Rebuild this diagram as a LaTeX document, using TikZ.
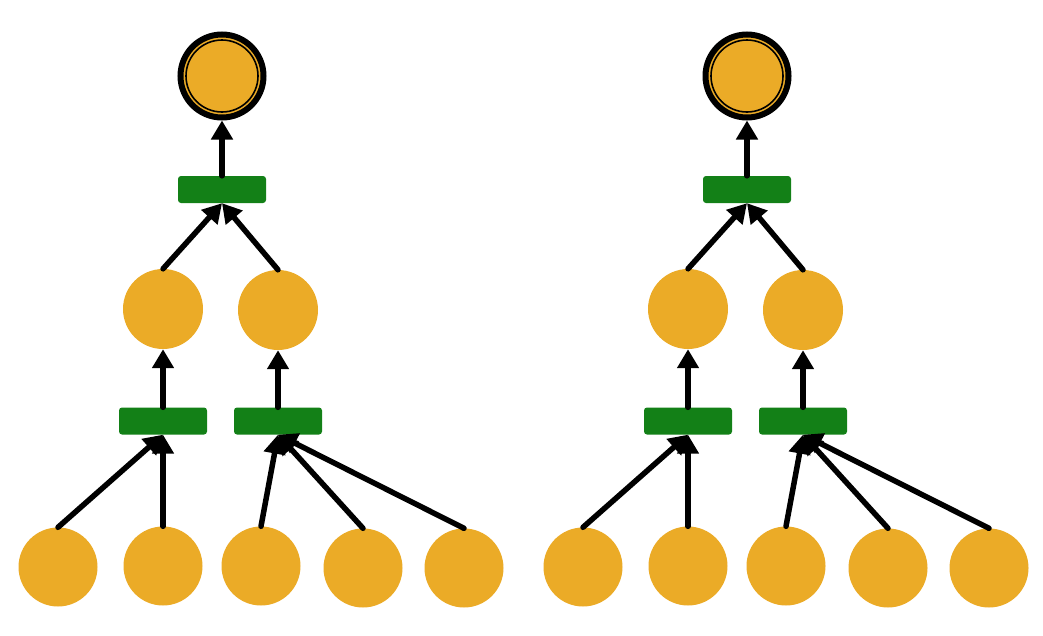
\documentclass[tikz,border=0pt]{standalone}
\usetikzlibrary{arrows.meta}
\definecolor{gold}{RGB}{235,171,39}
\definecolor{bargreen}{RGB}{19,128,23}
\begin{document}
\begin{tikzpicture}[x=1pt,y=-1pt,
  place/.style={circle,fill=gold,minimum size=79pt,inner sep=0pt},
  midplace/.style={circle,fill=gold,minimum size=80pt,inner sep=0pt},
  goal/.style={circle,fill=gold,draw=black,line width=6pt,minimum size=83pt,inner sep=0pt},
  innerring/.style={draw=black,line width=1.6pt},
  bar/.style={rectangle,fill=bargreen,minimum width=88pt,minimum height=27pt,inner sep=0pt,rounded corners=3pt},
  flow/.style={line width=5.5pt,line cap=round,-{Triangle[length=19pt,width=21pt]}}]
\useasboundingbox (0,0) rectangle (1043,635);
\foreach \t/\dx in {a/0,b/525}{
  \begin{scope}[xshift=\dx]
    \node[goal] (\t-top) at (222,76) {};
    \draw[innerring] (\t-top.center) circle (36);
    \node[bar] (\t-bar0) at (222,189.5) {};
    \node[midplace] (\t-m1) at (163,309) {};
    \node[midplace] (\t-m2) at (278,310) {};
    \node[bar] (\t-bar1) at (163,421) {};
    \node[bar] (\t-bar2) at (278,421) {};
    \node[place] (\t-p1) at (58,567) {};
    \node[place] (\t-p2) at (163,566) {};
    \node[place] (\t-p3) at (261,566) {};
    \node[place] (\t-p4) at (363,568) {};
    \node[place] (\t-p5) at (464,568) {};
  \end{scope}
  \draw[flow] (\t-bar0.north) -- (\t-top.south);
  \draw[flow] (\t-m1.north) -- (\t-bar0.south);
  \draw[flow] (\t-m2.north) -- (\t-bar0.south);
  \draw[flow] (\t-bar1.north) -- (\t-m1.south);
  \draw[flow] (\t-bar2.north) -- (\t-m2.south);
  \draw[flow] (\t-p1.north) -- (\t-bar1.south);
  \draw[flow] (\t-p2.north) -- (\t-bar1.south);
  \draw[flow] (\t-p3.north) -- (\t-bar2.south);
  \draw[flow] (\t-p4.north) -- (\t-bar2.south);
  \draw[flow] (\t-p5.north) -- (\t-bar2.south);
}
\end{tikzpicture}
\end{document}
